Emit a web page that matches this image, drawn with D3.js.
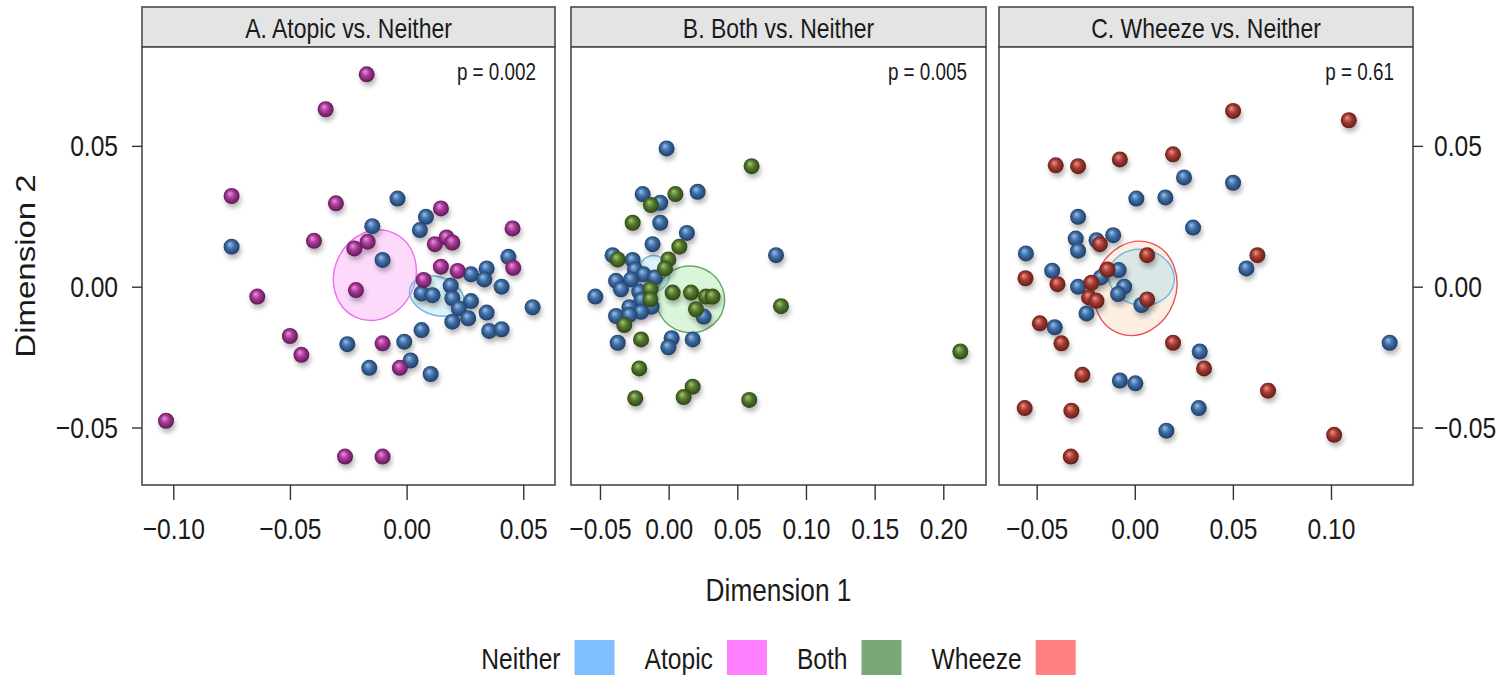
<!DOCTYPE html>
<html>
<head>
<meta charset="utf-8">
<script src="https://cdn.jsdelivr.net/npm/d3@7"></script>
<style>
  body { margin: 0; background: #fff; }
  svg { display: block; }
  text { font-family: "Liberation Sans", Arial, sans-serif; fill: #1a1a1a; }
</style>
</head>
<body>
<svg id="chart" width="1507" height="677"></svg>
<script>
// ---- Data (Dimension 1, Dimension 2) ----
var panelTitles = ["A. Atopic vs. Neither", "B. Both vs. Neither", "C. Wheeze vs. Neither"];
var pValues = ["p = 0.002", "p = 0.005", "p = 0.61"];
var groupNames = ["Neither", "Atopic", "Both", "Wheeze"];
var legendColors = ["#80bfff", "#ff80ff", "#78a878", "#ff8080"];

var xTicksA = [-0.10, -0.05, 0.00, 0.05];
var xTicksB = [-0.05, 0.00, 0.05, 0.10, 0.15, 0.20];
var xTicksC = [-0.05, 0.00, 0.05, 0.10];
var yTicks = [-0.05, 0.00, 0.05];

var neitherA = [
  [-0.0039, 0.0313], [0.0083, 0.0248], [0.0057, 0.0201], [-0.0147, 0.0215], [-0.0750, 0.0142],
  [-0.0103, 0.0095], [0.0276, 0.0044], [0.0343, 0.0065], [0.0333, 0.0026], [0.0436, 0.0106],
  [0.0407, 0.0000], [0.0540, -0.0073], [0.0189, 0.0004], [0.0064, -0.0024], [0.0111, -0.0030],
  [0.0196, -0.0041], [0.0276, -0.0051], [0.0224, -0.0077], [0.0264, -0.0112], [0.0196, -0.0124],
  [0.0343, -0.0092], [0.0354, -0.0157], [0.0407, -0.0151], [0.0064, -0.0154], [-0.0010, -0.0195],
  [-0.0254, -0.0204], [0.0017, -0.0262], [-0.0160, -0.0288], [0.0103, -0.0310]
];
var atopicA = [
  [-0.0171, 0.0754], [-0.0347, 0.0630], [-0.0750, 0.0322], [-0.0303, 0.0296], [0.0147, 0.0278],
  [-0.0397, 0.0163], [-0.0167, 0.0160], [-0.0224, 0.0136], [0.0121, 0.0151], [0.0171, 0.0175],
  [0.0196, 0.0157], [0.0454, 0.0207], [0.0147, 0.0071], [0.0219, 0.0056], [0.0457, 0.0067],
  [0.0073, 0.0024], [-0.0217, -0.0012], [-0.0640, -0.0035], [-0.0500, -0.0175], [-0.0451, -0.0242],
  [-0.0103, -0.0201], [-0.0029, -0.0288], [-0.1031, -0.0476], [-0.0264, -0.0603], [-0.0103, -0.0603]
];
var neitherB = [
  [-0.0015, 0.0491], [-0.0189, 0.0329], [0.0211, 0.0337], [-0.0061, 0.0298], [-0.0061, 0.0227],
  [0.0133, 0.0191], [-0.0117, 0.0151], [-0.0408, 0.0112], [-0.0262, 0.0095], [-0.0245, 0.0061],
  [-0.0182, 0.0044], [-0.0100, 0.0033], [-0.0383, 0.0021], [-0.0274, 0.0026], [-0.0347, -0.0009],
  [-0.0534, -0.0035], [-0.0214, -0.0018], [-0.0197, -0.0047], [-0.0124, -0.0071], [-0.0286, -0.0073],
  [-0.0201, -0.0089], [-0.0383, -0.0104], [-0.0286, -0.0100], [0.0255, -0.0106], [-0.0371, -0.0199],
  [0.0022, -0.0183], [-0.0002, -0.0215], [0.0175, -0.0187], [0.0782, 0.0112]
];
var bothB = [
  [0.0604, 0.0428], [0.0049, 0.0329], [-0.0129, 0.0290], [-0.0262, 0.0227], [0.0078, 0.0142],
  [-0.0371, 0.0097], [-0.0002, 0.0097], [-0.0027, 0.0065], [-0.0133, -0.0009], [-0.0133, -0.0045],
  [0.0029, -0.0021], [0.0163, -0.0021], [0.0272, -0.0035], [0.0320, -0.0035], [0.0199, -0.0080],
  [0.0818, -0.0069], [-0.0323, -0.0136], [-0.0201, -0.0187], [-0.0214, -0.0290], [-0.0243, -0.0396],
  [0.0175, -0.0355], [0.0109, -0.0392], [0.0587, -0.0402], [0.2124, -0.0230]
];
var neitherC = [
  [0.0251, 0.0388], [0.0501, 0.0369], [0.0008, 0.0313], [0.0156, 0.0317], [-0.0289, 0.0248],
  [0.0297, 0.0210], [-0.0301, 0.0171], [-0.0110, 0.0183], [-0.0195, 0.0165], [-0.0289, 0.0128],
  [-0.0555, 0.0118], [-0.0421, 0.0057], [-0.0082, 0.0059], [0.0569, 0.0065], [-0.0173, 0.0033],
  [-0.0289, 0.0000], [-0.0054, 0.0000], [-0.0085, -0.0026], [0.0034, -0.0065], [-0.0246, -0.0095],
  [-0.0408, -0.0144], [0.0331, -0.0230], [-0.0076, -0.0333], [0.0003, -0.0343], [0.0326, -0.0431],
  [0.0161, -0.0511], [0.1299, -0.0199]
];
var wheezeC = [
  [0.0501, 0.0624], [0.1091, 0.0591], [0.0195, 0.0470], [-0.0076, 0.0452], [-0.0403, 0.0431],
  [-0.0289, 0.0428], [-0.0178, 0.0151], [0.0063, 0.0112], [0.0625, 0.0112], [-0.0139, 0.0061],
  [-0.0557, 0.0030], [-0.0394, 0.0009], [-0.0221, 0.0014], [-0.0233, -0.0038], [-0.0195, -0.0050],
  [0.0063, -0.0045], [-0.0484, -0.0130], [-0.0374, -0.0201], [0.0195, -0.0199], [0.0353, -0.0290],
  [-0.0267, -0.0313], [0.0679, -0.0369], [-0.0561, -0.0431], [-0.0323, -0.0440], [0.1016, -0.0526],
  [-0.0326, -0.0603]
];

// Group ellipses: [group, centre x, centre y, radius x, radius y, tilt in degrees]
var ellipsesA = [["Atopic", -0.0136, 0.0041, 0.0173, 0.0164, 25], ["Neither", 0.0129, -0.0033, 0.0120, 0.0068, 18]];
var ellipsesB = [["Neither", -0.0109, 0.0047, 0.0116, 0.0064, 0], ["Both", 0.0158, -0.0045, 0.0250, 0.0118, 15]];
var ellipsesC = [["Wheeze", 0.0003, -0.0006, 0.0208, 0.0170, 20], ["Neither", 0.0034, 0.0033, 0.0168, 0.0099, 10]];

// ---- Layout ----
var NARROW = 0.82;   // the original figure is squeezed horizontally
var plotTop = 47, plotBottom = 485, stripTop = 7;
var panels = [
  { left: 142, right: 555, domain: [-0.1134, 0.0636], ticks: xTicksA, groups: [["Neither", neitherA], ["Atopic", atopicA]], ellipses: ellipsesA },
  { left: 571, right: 986, domain: [-0.0711, 0.2311], ticks: xTicksB, groups: [["Neither", neitherB], ["Both", bothB]], ellipses: ellipsesB },
  { left: 999, right: 1413, domain: [-0.0692, 0.1418], ticks: xTicksC, groups: [["Neither", neitherC], ["Wheeze", wheezeC]], ellipses: ellipsesC }
];

// Colours of the shaded balls: [highlight, base, shade]
var ballColors = {
  Neither: ["#9dc0e8", "#3f6fa7", "#1b365c"],
  Atopic:  ["#ea95dc", "#a83a98", "#55124b"],
  Both:    ["#a8c676", "#557a2e", "#263d10"],
  Wheeze:  ["#e8968c", "#a83b32", "#561913"]
};
var ellipseStyle = {
  Neither: { fill: "rgba(140,215,240,0.30)", stroke: "#74b8e0" },
  Atopic:  { fill: "rgba(250,150,245,0.35)", stroke: "#ee6cee" },
  Both:    { fill: "rgba(150,225,150,0.35)", stroke: "#66a866" },
  Wheeze:  { fill: "rgba(250,200,160,0.30)", stroke: "#e8525a" }
};

var svg = d3.select("#chart");
var defs = svg.append("defs");

// Soft blur for ball shadows
defs.append("filter").attr("id", "blur")
  .attr("x", "-60%").attr("y", "-60%").attr("width", "220%").attr("height", "220%")
  .append("feGaussianBlur").attr("stdDeviation", 2.6);

// One radial gradient per group so the points look like little spheres
groupNames.forEach(function(g) {
  var c = ballColors[g];
  var grad = defs.append("radialGradient").attr("id", "ball-" + g)
    .attr("cx", "50%").attr("cy", "50%").attr("r", "55%")
    .attr("fx", "38%").attr("fy", "32%");
  grad.append("stop").attr("offset", "0%").attr("stop-color", c[0]);
  grad.append("stop").attr("offset", "45%").attr("stop-color", c[1]);
  grad.append("stop").attr("offset", "100%").attr("stop-color", c[2]);
});

/** Writes horizontally squeezed text at (x, y). */
function narrowText(parent, x, y, str, size, anchor) {
  return parent.append("text")
    .attr("transform", "translate(" + x + "," + y + ") scale(" + NARROW + ",1)")
    .attr("text-anchor", anchor || "middle")
    .attr("font-size", size)
    .text(str);
}

var fmt = function(d) { return d3.format(".2f")(d).replace("-", "\u2212"); };
var y = d3.scaleLinear().domain([-0.0704, 0.0851]).range([plotBottom, plotTop]);

panels.forEach(function(p, i) {
  var x = d3.scaleLinear().domain(p.domain).range([p.left, p.right]);
  var g = svg.append("g");

  // Strip with the panel title
  g.append("rect")
    .attr("x", p.left).attr("y", stripTop)
    .attr("width", p.right - p.left).attr("height", plotTop - stripTop)
    .attr("fill", "#e4e4e4").attr("stroke", "#4a4a4a").attr("stroke-width", 1.6);
  narrowText(g, (p.left + p.right) / 2, plotTop - 9, panelTitles[i], 28);

  // Panel box
  g.append("rect")
    .attr("x", p.left).attr("y", plotTop)
    .attr("width", p.right - p.left).attr("height", plotBottom - plotTop)
    .attr("fill", "#fff").attr("stroke", "#4a4a4a").attr("stroke-width", 1.6);

  // Group ellipses, drawn below the points
  p.ellipses.forEach(function(e) {
    var cx = x(e[1]), cy = y(e[2]);
    var rx = Math.abs(x(e[1] + e[3]) - cx), ry = Math.abs(y(e[2] + e[4]) - cy);
    g.append("ellipse")
      .attr("cx", 0).attr("cy", 0).attr("rx", rx).attr("ry", ry)
      .attr("transform", "translate(" + cx + "," + cy + ") rotate(" + e[5] + ")")
      .attr("fill", ellipseStyle[e[0]].fill)
      .attr("stroke", ellipseStyle[e[0]].stroke)
      .attr("stroke-width", 1.4);
  });

  // Shadows first, then the balls on top of them
  p.groups.forEach(function(grp) {
    g.selectAll(null).data(grp[1]).enter().append("circle")
      .attr("cx", function(d) { return x(d[0]) + 1.5; })
      .attr("cy", function(d) { return y(d[1]) + 4; })
      .attr("r", 8)
      .attr("fill", "#000").attr("opacity", 0.28)
      .attr("filter", "url(#blur)");
  });
  p.groups.forEach(function(grp) {
    g.selectAll(null).data(grp[1]).enter().append("circle")
      .attr("cx", function(d) { return x(d[0]); })
      .attr("cy", function(d) { return y(d[1]); })
      .attr("r", 8)
      .attr("fill", "url(#ball-" + grp[0] + ")");
  });

  // p-value in the top right corner
  narrowText(g, p.right - 19, 80, pValues[i], 23, "end");

  // Bottom axis
  var xAxis = g.append("g")
    .attr("transform", "translate(0," + plotBottom + ")")
    .call(d3.axisBottom(x).tickValues(p.ticks).tickSize(15).tickPadding(18).tickFormat(fmt));
  xAxis.select(".domain").remove();
  xAxis.selectAll(".tick line").attr("stroke", "#333").attr("stroke-width", 1.4);
  xAxis.selectAll(".tick text")
    .attr("font-size", 30).attr("font-family", null).attr("fill", "#1a1a1a")
    .attr("transform", "scale(" + NARROW + ",1)");

  // Left axis on the first panel, right axis on the last one
  if (i === 0 || i === panels.length - 1) {
    var left = i === 0;
    var axis = (left ? d3.axisLeft(y) : d3.axisRight(y))
      .tickValues(yTicks).tickSize(10).tickFormat(fmt);
    var yAxis = g.append("g")
      .attr("transform", "translate(" + (left ? p.left : p.right) + ",0)")
      .call(axis);
    yAxis.select(".domain").remove();
    yAxis.selectAll(".tick line").attr("stroke", "#333").attr("stroke-width", 1.4);
    yAxis.selectAll(".tick text")
      .attr("font-size", 30).attr("font-family", null).attr("fill", "#1a1a1a")
      .attr("x", (left ? -24 : 21) / NARROW)
      .attr("transform", "scale(" + NARROW + ",1)");
  }
});

// Axis titles
narrowText(svg, (panels[1].left + panels[1].right) / 2, 601, "Dimension 1", 32);
svg.append("text")
  .attr("transform", "translate(35,266) rotate(-90) scale(1," + NARROW + ")")
  .attr("text-anchor", "middle").attr("font-size", 33)
  .text("Dimension 2");

// Legend, centred below the middle panel
var legend = svg.append("g");
var lx = 0, items = [];
groupNames.forEach(function(name, i) {
  var t = narrowText(legend, 0, 669, name, 30, "start");
  var w = t.node().getComputedTextLength() * NARROW;
  items.push({ text: t, x: lx, w: w, color: legendColors[i] });
  lx += w + 14 + 40 + 30;
});
var totalW = lx - 30;
var startX = (panels[1].left + panels[1].right) / 2 - totalW / 2;
items.forEach(function(it) {
  var tx = startX + it.x;
  it.text.attr("transform", "translate(" + tx + ",669) scale(" + NARROW + ",1)");
  legend.append("rect")
    .attr("x", tx + it.w + 14).attr("y", 640)
    .attr("width", 40).attr("height", 35)
    .attr("fill", it.color);
});
</script>
</body>
</html>
